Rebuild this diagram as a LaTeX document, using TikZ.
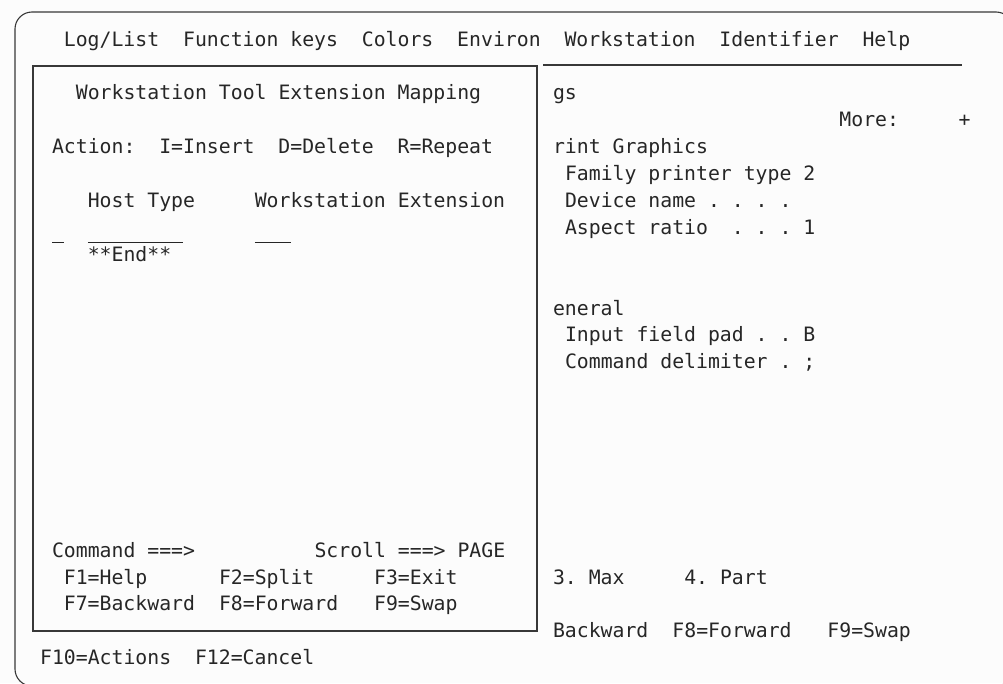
\documentclass[tikz,border=0pt]{standalone}
\usepackage{fontspec}
\newfontfamily\scrfont{DejaVu Sans Mono}
\definecolor{ink}{HTML}{262626}
\definecolor{rule}{HTML}{383838}
\definecolor{paper}{HTML}{FCFCFC}
\tikzset{txt/.style = {anchor=base west, inner sep=0pt, outer sep=0pt, text=ink,
                       font=\scrfont\fontsize{19.8pt}{24pt}\selectfont\frenchspacing}}
\tikzset{frame/.style = {draw=rule, line width=1.1pt}}
\tikzset{field/.style = {draw=ink, line width=0.9pt}}

\begin{document}
\begin{tikzpicture}[x=1pt,y=-1pt]
			\useasboundingbox (0,0) rectangle (1003,683);
			\fill [paper] (0,0) rectangle (1003,683);
			% screen border, runs off the right and bottom
			\begin{scope}
				\clip (0,0) rectangle (1003,683);
				\draw [frame, rounded corners=17pt] (15,12) rectangle (1013,686);
			\end{scope}
			% pop-up window
			\draw [frame] (33,66) rectangle (537,631);
			\draw [frame] (543,65) -- (962,65);
			\node [txt] (menu) at (63.9, 46) {Log/List~~Function keys~~Colors~~Environ~~Workstation~~Identifier~~Help};
			\node [txt] (title) at (75.9, 99.8) {Workstation Tool Extension Mapping};
			\node [txt] (action) at (52, 153.6) {Action:~~I=Insert~~D=Delete~~R=Repeat};
			\node [txt] (host) at (87.8, 207.4) {Host Type};
			\node [txt] (wsext) at (254.8, 207.4) {Workstation Extension};
			\node [txt] (end) at (87.8, 261.2) {**End**};
			\draw [field] (52,242) -- (63.9,242);
			\draw [field] (87.8,242) -- (183.2,242);
			\draw [field] (254.8,242) -- (290.6,242);
			\node [txt] (cmd) at (52, 557.1) {Command ===>};
			\node [txt] (scroll) at (314.5, 557.1) {Scroll ===> PAGE};
			\node [txt] (f1) at (63.9, 584) {F1=Help};
			\node [txt] (f2) at (219, 584) {F2=Split};
			\node [txt] (f3) at (374.1, 584) {F3=Exit};
			\node [txt] (f7) at (63.9, 610.9) {F7=Backward};
			\node [txt] (f8) at (219, 610.9) {F8=Forward};
			\node [txt] (f9) at (374.1, 610.9) {F9=Swap};
			% panel behind the window
			\node [txt] (gs) at (553, 99.8) {gs};
			\node [txt] (more) at (839.4, 126.7) {More:~~~~~+};
			\node [txt] (print) at (553, 153.6) {rint Graphics};
			\node [txt] (family) at (565, 180.5) {Family printer type 2};
			\node [txt] (device) at (565, 207.4) {Device name . . . .};
			\node [txt] (aspect) at (565, 234.3) {Aspect ratio~~. . . 1};
			\node [txt] (general) at (553, 315) {eneral};
			\node [txt] (pad) at (565, 341.9) {Input field pad . . B};
			\node [txt] (delim) at (565, 368.8) {Command delimiter . ;};
			\node [txt] (max) at (553, 584) {3. Max};
			\node [txt] (part) at (684.3, 584) {4. Part};
			\node [txt] (bwd) at (553, 637.8) {Backward};
			\node [txt] (fwd) at (672.4, 637.8) {F8=Forward};
			\node [txt] (swap) at (827.4, 637.8) {F9=Swap};
			\node [txt] (f10) at (40.1, 664.7) {F10=Actions~~F12=Cancel};
		\end{tikzpicture}
\end{document}
